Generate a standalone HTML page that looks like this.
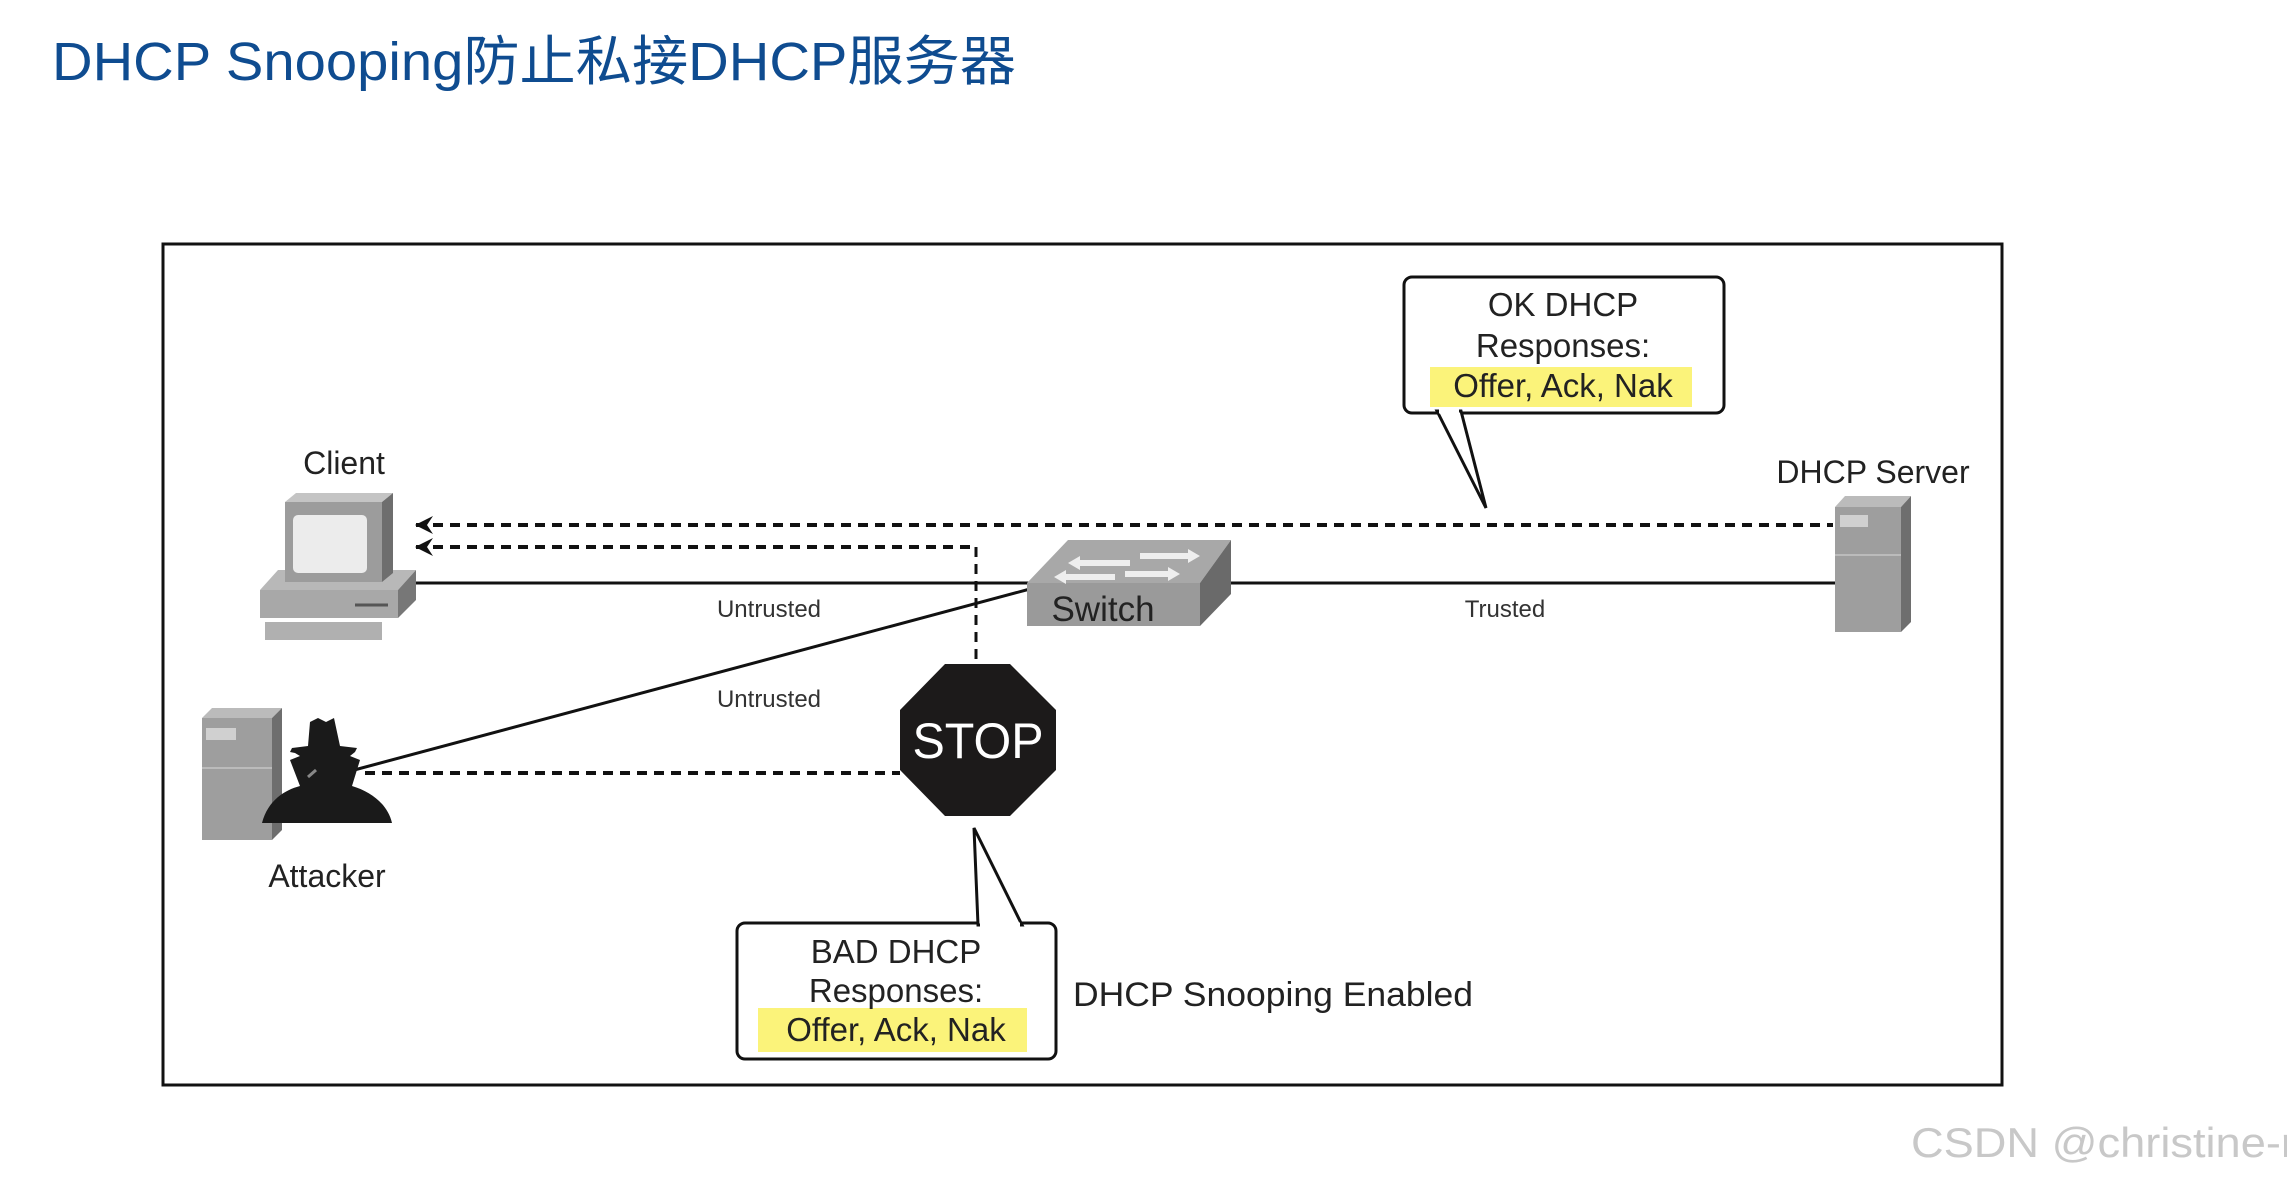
<!DOCTYPE html>
<html><head><meta charset="utf-8"><style>
html,body{margin:0;padding:0;background:#fff;}
svg{display:block;}
text{font-family:"Liberation Sans","Noto Sans CJK SC",sans-serif;}
</style></head><body>
<svg width="2287" height="1180" viewBox="0 0 2287 1180" xmlns="http://www.w3.org/2000/svg">
<defs>
<marker id="ah" markerWidth="18" markerHeight="18" refX="1" refY="9" orient="auto" markerUnits="userSpaceOnUse">
<path d="M0,9 L18,0 L12,9 L18,18 Z" fill="#111"/>
</marker>
</defs>
<rect width="2287" height="1180" fill="#fff"/>
<text x="52" y="80" font-size="54" fill="#0f4c90" textLength="964" lengthAdjust="spacingAndGlyphs">DHCP Snooping防止私接DHCP服务器</text>

<rect x="163" y="244" width="1839" height="841" fill="none" stroke="#111" stroke-width="3"/>

<line x1="416" y1="583" x2="1030" y2="583" stroke="#111" stroke-width="3"/>
<line x1="1230" y1="583" x2="1835" y2="583" stroke="#111" stroke-width="3"/>
<line x1="1030" y1="589" x2="343" y2="773" stroke="#111" stroke-width="3"/>

<line x1="416" y1="525" x2="1833" y2="525" stroke="#111" stroke-width="4" stroke-dasharray="10,7" marker-start="url(#ah)"/>
<line x1="416" y1="547" x2="976" y2="547" stroke="#111" stroke-width="4" stroke-dasharray="10,7" marker-start="url(#ah)"/>
<line x1="976" y1="547" x2="976" y2="664" stroke="#111" stroke-width="3" stroke-dasharray="10,7"/>
<line x1="365" y1="773" x2="900" y2="773" stroke="#111" stroke-width="4" stroke-dasharray="10,7"/>

<polygon points="260,590 278,570 416,570 398,590" fill="#b8b8b8"/>
<polygon points="398,590 416,570 416,600 398,618" fill="#777"/>
<rect x="260" y="590" width="138" height="28" fill="#a8a8a8"/>
<line x1="355" y1="605" x2="388" y2="605" stroke="#555" stroke-width="3"/>
<polygon points="265,622 382,622 382,640 265,640" fill="#b0b0b0"/>
<polygon points="285,502 296,493 393,493 382,502" fill="#c4c4c4"/>
<polygon points="382,502 393,493 393,573 382,582" fill="#6e6e6e"/>
<rect x="285" y="502" width="97" height="80" fill="#9c9c9c"/>
<rect x="293" y="515" width="74" height="58" rx="5" fill="#ececec"/>
<text x="344" y="474" font-size="32" text-anchor="middle" fill="#222">Client</text>

<polygon points="1068,540 1231,540 1200,583 1027,583" fill="#a8a8a8"/>
<polygon points="1200,583 1231,540 1231,594 1200,626" fill="#6a6a6a"/>
<rect x="1027" y="583" width="173" height="43" fill="#9a9a9a"/>
<path d="M1140,553 L1188,553 L1188,549 L1200,556 L1188,563 L1188,559 L1140,559Z" fill="#eee"/>
<path d="M1125,571 L1168,571 L1168,567 L1180,574 L1168,581 L1168,577 L1125,577Z" fill="#eee"/>
<path d="M1130,560 L1080,560 L1080,556 L1068,563 L1080,570 L1080,566 L1130,566Z" fill="#eee"/>
<path d="M1115,574 L1066,574 L1066,570 L1054,577 L1066,584 L1066,580 L1115,580Z" fill="#eee"/>
<text x="1103" y="621" font-size="35" text-anchor="middle" fill="#222">Switch</text>

<polygon points="1835,507 1845,496 1911,496 1901,507" fill="#bbb"/>
<polygon points="1901,507 1911,496 1911,622 1901,632" fill="#6e6e6e"/>
<rect x="1835" y="507" width="66" height="125" fill="#9e9e9e"/>
<rect x="1840" y="515" width="28" height="12" fill="#d0d0d0"/>
<line x1="1835" y1="555" x2="1901" y2="555" stroke="#bbb" stroke-width="2"/>
<text x="1873" y="483" font-size="32" text-anchor="middle" fill="#222">DHCP Server</text>

<polygon points="202,718 212,708 282,708 272,718" fill="#bbb"/>
<polygon points="272,718 282,708 282,830 272,840" fill="#6e6e6e"/>
<rect x="202" y="718" width="70" height="122" fill="#9e9e9e"/>
<rect x="206" y="728" width="30" height="12" fill="#d0d0d0"/>
<line x1="202" y1="768" x2="272" y2="768" stroke="#bbb" stroke-width="2"/>
<path d="M262,823 C268,800 285,790 300,786 L290,760 L300,756 L295,753 L290,752 L292,748 L308,746 L310,722 L318,718 L326,722 L334,718 L340,746 L357,748 L355,752 L350,756 L360,760 L352,786 C372,792 388,805 392,823 Z" fill="#1a1a1a"/>
<line x1="308" y1="777" x2="316" y2="770" stroke="#888" stroke-width="3"/>
<text x="327" y="887" font-size="32" text-anchor="middle" fill="#222">Attacker</text>

<text x="769" y="617" font-size="24" text-anchor="middle" fill="#333">Untrusted</text>
<text x="1505" y="617" font-size="24" text-anchor="middle" fill="#333">Trusted</text>
<text x="769" y="707" font-size="24" text-anchor="middle" fill="#333">Untrusted</text>

<polygon points="945,664 1010,664 1056,710 1056,770 1010,816 945,816 900,770 900,710" fill="#1c1a1a"/>
<text x="978" y="758" font-size="50" text-anchor="middle" fill="#fff" textLength="131" lengthAdjust="spacingAndGlyphs">STOP</text>

<rect x="1404" y="277" width="320" height="136" rx="8" fill="#fff" stroke="#111" stroke-width="3"/>
<polygon points="1437,411 1486,508 1461,411" fill="#fff" stroke="#111" stroke-width="3"/>
<line x1="1439" y1="411" x2="1459" y2="411" stroke="#fff" stroke-width="5"/>
<rect x="1430" y="367" width="262" height="40" fill="#fbf37a"/>
<text x="1563" y="316" font-size="33" text-anchor="middle" fill="#222">OK DHCP</text>
<text x="1563" y="357" font-size="33" text-anchor="middle" fill="#222">Responses:</text>
<text x="1563" y="397" font-size="33" text-anchor="middle" fill="#222">Offer, Ack, Nak</text>

<rect x="737" y="923" width="319" height="136" rx="8" fill="#fff" stroke="#111" stroke-width="3"/>
<polygon points="978,925 974,828 1022,925" fill="#fff" stroke="#111" stroke-width="3"/>
<line x1="980" y1="925" x2="1020" y2="925" stroke="#fff" stroke-width="5"/>
<rect x="758" y="1008" width="269" height="44" fill="#fbf37a"/>
<text x="896" y="963" font-size="33" text-anchor="middle" fill="#222">BAD DHCP</text>
<text x="896" y="1002" font-size="33" text-anchor="middle" fill="#222">Responses:</text>
<text x="896" y="1041" font-size="33" text-anchor="middle" fill="#222">Offer, Ack, Nak</text>
<text x="1073" y="1006" font-size="34" fill="#222" textLength="400" lengthAdjust="spacingAndGlyphs">DHCP Snooping Enabled</text>

<text x="1911" y="1157" font-size="42" fill="#c8c8c8" textLength="400" lengthAdjust="spacingAndGlyphs">CSDN @christine-rr</text>
</svg>
</body></html>
